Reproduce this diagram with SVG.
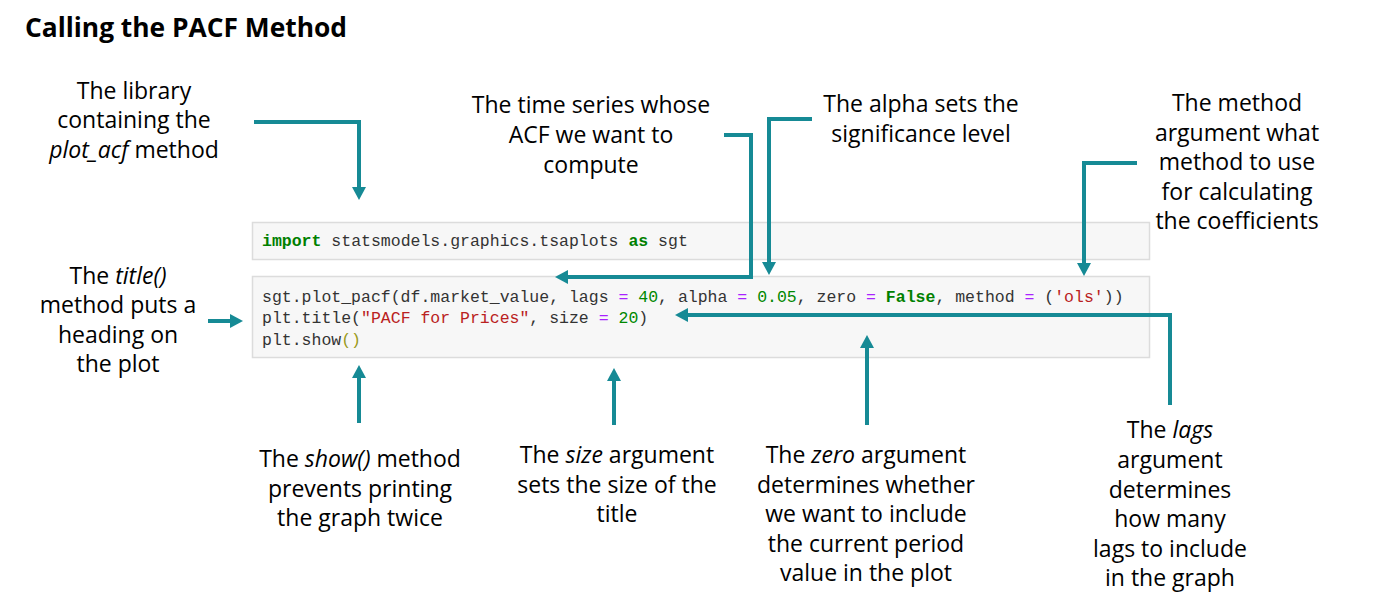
<svg xmlns="http://www.w3.org/2000/svg" width="1383" height="607" viewBox="0 0 1383 607">
<style>
.t{font-family:"Open Sans","Noto Sans",sans-serif;font-size:23px;fill:#000;text-anchor:middle}
.h{font-family:"Open Sans","Noto Sans",sans-serif;font-size:26px;font-weight:bold;fill:#000}
.c{font-family:"Liberation Mono","DejaVu Sans Mono",monospace;font-size:16.5px;fill:#333}
.kw{fill:#008000;font-weight:bold}
.num{fill:#008800}
.op{fill:#aa22ff}
.str{fill:#ba2121}
.br{fill:#9a9a20}
.box{fill:#f7f7f7;stroke:#dcdcdc;stroke-width:1.5}
.a{fill:none;stroke:#168a95;stroke-width:4;marker-end:url(#ah)}
</style>
<defs>
<marker id="ah" markerUnits="userSpaceOnUse" markerWidth="14" markerHeight="14" refX="3" refY="7" orient="auto">
<path d="M0,0 L13,7 L0,14 z" fill="#168a95"/>
</marker>
</defs>
<rect width="1383" height="607" fill="#fff"/>
<text class="h" x="25" y="37" textLength="322" lengthAdjust="spacingAndGlyphs">Calling the PACF Method</text>

<g id="code1">
<rect class="box" x="252.5" y="222.5" width="897" height="37"/>
<text class="c" x="262" y="246"><tspan class="kw">import</tspan> statsmodels.graphics.tsaplots <tspan class="kw">as</tspan> sgt</text>
</g>
<g id="code2">
<rect class="box" x="252.5" y="276.5" width="897" height="81"/>
<text class="c" x="262" y="302">sgt.plot_pacf(df.market_value, lags <tspan class="op">=</tspan> <tspan class="num">40</tspan>, alpha <tspan class="op">=</tspan> <tspan class="num">0.05</tspan>, zero <tspan class="op">=</tspan> <tspan class="kw">False</tspan>, method <tspan class="op">=</tspan> (<tspan class="str">'ols'</tspan>))</text>
<text class="c" x="262" y="323">plt.title(<tspan class="str">"PACF for Prices"</tspan>, size <tspan class="op">=</tspan> <tspan class="num">20</tspan>)</text>
<text class="c" x="262" y="345">plt.show<tspan class="br">()</tspan></text>
</g>

<g id="connectors">
<path class="a" d="M254,122 H359 V190"/>
<path class="a" d="M724,135 H751 V277 H565"/>
<path class="a" d="M812,119 H769 V265"/>
<path class="a" d="M1137,163 H1084 V266"/>
<path class="a" d="M1170,405 V315 H685"/>
<path class="a" d="M867,425 V345"/>
<path class="a" d="M614,425 V378"/>
<path class="a" d="M359,423 V375"/>
<path class="a" d="M208,321 H233"/>
</g>

<g id="n-library">
<text class="t" x="134" y="99">The library</text>
<text class="t" x="134" y="128">containing the</text>
<text class="t" x="134" y="158"><tspan font-style="italic">plot_acf</tspan> method</text>
</g>
<g id="n-title">
<text class="t" x="118" y="284">The <tspan font-style="italic">title()</tspan></text>
<text class="t" x="118" y="313">method puts a</text>
<text class="t" x="118" y="343">heading on</text>
<text class="t" x="118" y="372">the plot</text>
</g>
<g id="n-series">
<text class="t" x="591" y="113">The time series whose</text>
<text class="t" x="591" y="143">ACF we want to</text>
<text class="t" x="591" y="173">compute</text>
</g>
<g id="n-alpha">
<text class="t" x="921" y="112">The alpha sets the</text>
<text class="t" x="921" y="142">significance level</text>
</g>
<g id="n-method">
<text class="t" x="1237" y="111">The method</text>
<text class="t" x="1237" y="141">argument what</text>
<text class="t" x="1237" y="170">method to use</text>
<text class="t" x="1237" y="200">for calculating</text>
<text class="t" x="1237" y="229">the coefficients</text>
</g>
<g id="n-show">
<text class="t" x="360" y="467">The <tspan font-style="italic">show()</tspan> method</text>
<text class="t" x="360" y="497">prevents printing</text>
<text class="t" x="360" y="526">the graph twice</text>
</g>
<g id="n-size">
<text class="t" x="617" y="463">The <tspan font-style="italic">size</tspan> argument</text>
<text class="t" x="617" y="493">sets the size of the</text>
<text class="t" x="617" y="522">title</text>
</g>
<g id="n-zero">
<text class="t" x="866" y="463">The <tspan font-style="italic">zero</tspan> argument</text>
<text class="t" x="866" y="493">determines whether</text>
<text class="t" x="866" y="522">we want to include</text>
<text class="t" x="866" y="552">the current period</text>
<text class="t" x="866" y="581">value in the plot</text>
</g>
<g id="n-lags">
<text class="t" x="1170" y="438">The <tspan font-style="italic">lags</tspan></text>
<text class="t" x="1170" y="468">argument</text>
<text class="t" x="1170" y="498">determines</text>
<text class="t" x="1170" y="527">how many</text>
<text class="t" x="1170" y="557">lags to include</text>
<text class="t" x="1170" y="586">in the graph</text>
</g>
</svg>
